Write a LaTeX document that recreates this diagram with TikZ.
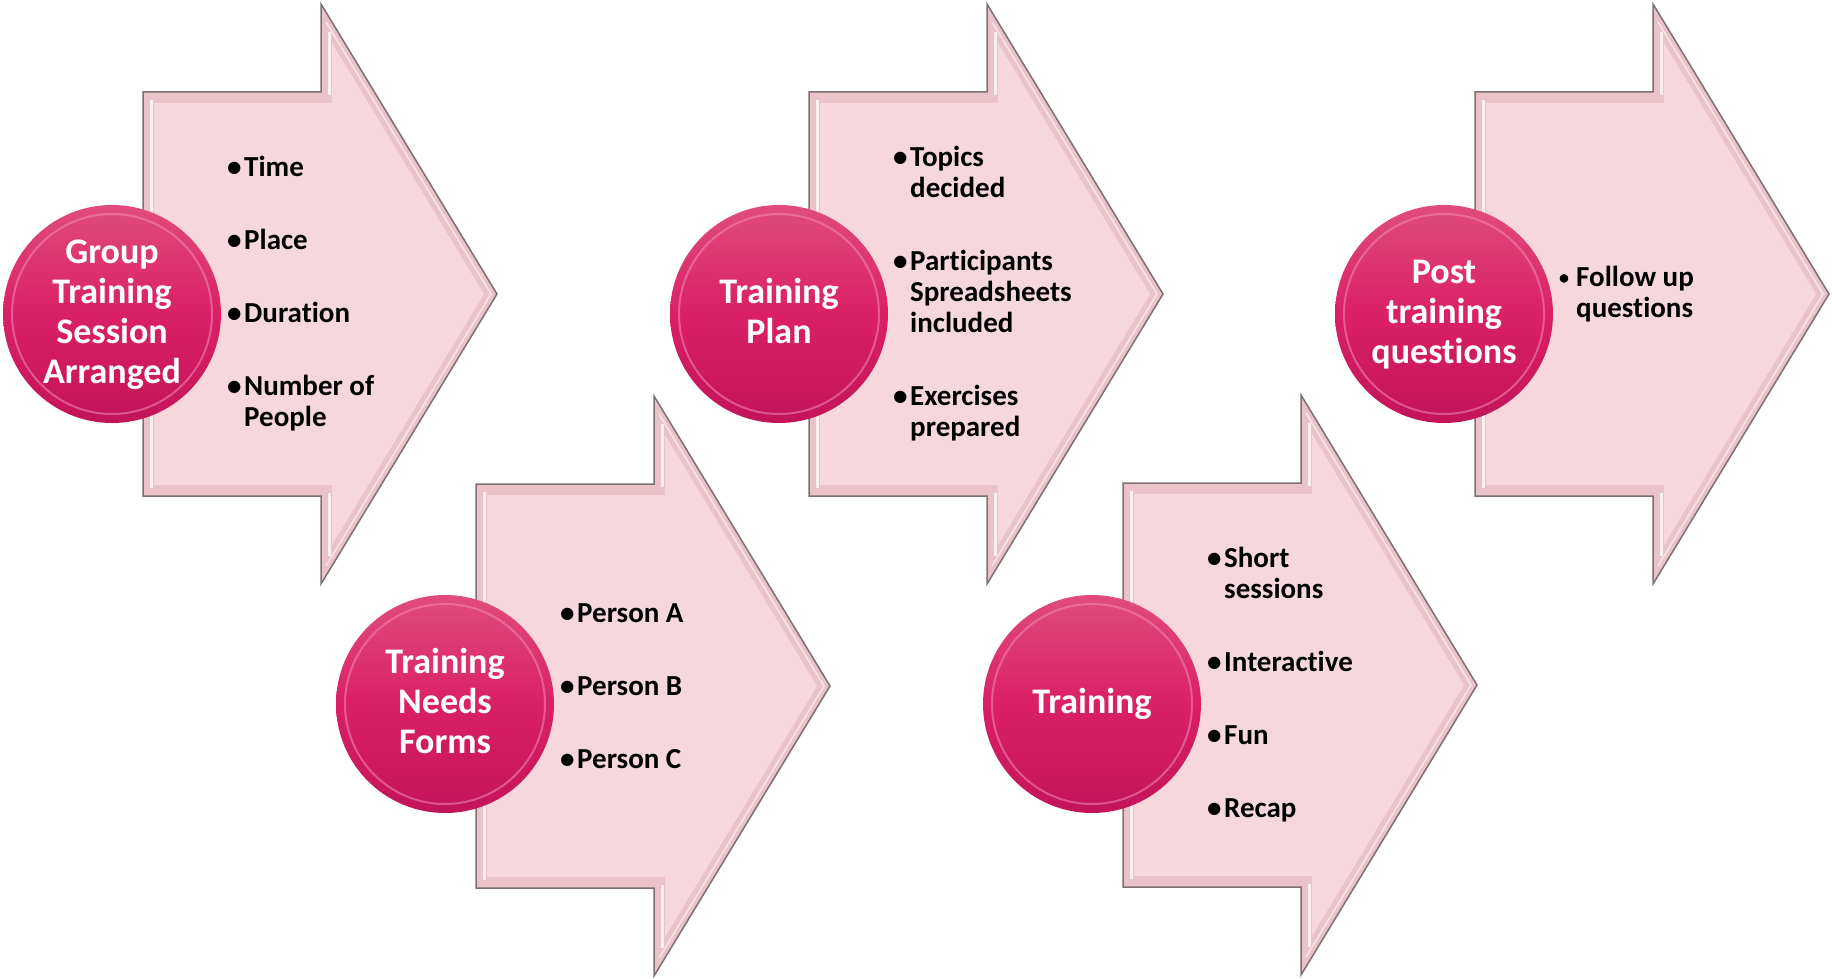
\documentclass[tikz,border=0pt]{standalone}
\usepackage{fontspec}
\setmainfont{Carlito}[Ligatures=NoCommon]
\definecolor{arrowfill}{HTML}{F6D7DE}
\definecolor{bevelfill}{HTML}{EAC2CA}
\definecolor{arrowline}{HTML}{7E7072}
\definecolor{bubtop}{HTML}{E04C7C}
\definecolor{bubmid}{HTML}{DA2066}
\definecolor{bubbot}{HTML}{C31459}
\definecolor{bubrim}{HTML}{F38AB6}
\newcommand\itm[1]{\makebox[17pt][l]{\textbullet}#1}
\newcommand\itmsm[1]{\makebox[17pt][l]{\raisebox{1.5pt}{\fontsize{20}{20}\selectfont\textbullet}}#1}
\newcommand\cnt[1]{\makebox[17pt]{}#1}
\newcommand\lift{\rule{0pt}{27pt}}
\newcommand\drop{\rule[-9pt]{0pt}{0pt}}
\tikzset{
  bevel/.style={fill=bevelfill, draw=arrowline, line width=1.5pt, line join=miter},
  arrowbody/.style={fill=arrowfill},
  shine/.style={white, line width=3pt, opacity=0.75},
  bubble/.style={circle, minimum size=218pt, inner sep=0pt, top color=bubtop,
    bottom color=bubbot, middle color=bubmid, text=white, align=center,
    font=\bfseries\fontsize{36}{40}\selectfont},
  bullets/.style={anchor=west, inner sep=0pt, align=left,
    font=\bfseries\fontsize{29}{31}\selectfont},
}
\begin{document}
\begin{tikzpicture}[x=1pt,y=-1pt]
  \useasboundingbox (0,0) rectangle (1832,979);
  % arrows: left edge / middle height
  \foreach \L/\M in {143/294, 476/686, 809/294, 1123/685, 1475/294}{
    \draw[bevel] (\L,\M-202) -- (\L+178,\M-202) -- (\L+178,\M-290) -- (\L+354,\M)
      -- (\L+178,\M+290) -- (\L+178,\M+202) -- (\L,\M+202) -- cycle;
    \fill[arrowbody] (\L+11,\M-191) -- (\L+189,\M-191) -- (\L+189,\M-251) -- (\L+341,\M)
      -- (\L+189,\M+251) -- (\L+189,\M+191) -- (\L+11,\M+191) -- cycle;
    \draw[shine] (\L+8,\M-194) -- (\L+8,\M+194);
    \draw[shine] (\L+186,\M-199) -- (\L+186,\M-262);
    \draw[shine] (\L+186,\M+199) -- (\L+186,\M+262);
    \draw[shine, line width=1.5pt, opacity=0.6] (\L+183,\M-272) -- (\L+348,\M) -- (\L+183,\M+272);
  }

  % bubbles
  \node[bubble] (grp) at (112,314) {\lift Group\\Training\\Session\\Arranged\drop};
  \node[bubble] (needs) at (445,704) {\lift Training\\Needs\\Forms\drop};
  \node[bubble] (plan) at (779,314) {\lift Training\\Plan\drop};
  \node[bubble] (train) at (1092,704) {\lift Training\drop};
  \node[bubble] (post) at (1444,314) {\lift Post\\training\\questions\drop};
  \foreach \b in {grp, needs, plan, train, post}
    \draw[bubrim, line width=2pt, opacity=0.55] (\b.center) circle (100);

  % lists
  \node[bullets] (grplist) at (227,294)
    {\itm{Time}\\[42pt]\itm{Place}\\[42pt]\itm{Duration}\\[42pt]\itm{Number of}\\\cnt{People}};
  \node[bullets] (needslist) at (560,686)
    {\itm{Person A}\\[42pt]\itm{Person B}\\[42pt]\itm{Person C}};
  \node[bullets] (planlist) at (893,294)
    {\itm{Topics}\\\cnt{decided}\\[42pt]\itm{Participants}\\\cnt{Spreadsheets}\\\cnt{included}\\[42pt]\itm{Exercises}\\\cnt{prepared}};
  \node[bullets] (trainlist) at (1207,685)
    {\itm{Short}\\\cnt{sessions}\\[42pt]\itm{Interactive}\\[42pt]\itm{Fun}\\[42pt]\itm{Recap}};
  \node[bullets] (postlist) at (1559,294)
    {\itmsm{Follow up}\\\cnt{questions}};
\end{tikzpicture}
\end{document}
